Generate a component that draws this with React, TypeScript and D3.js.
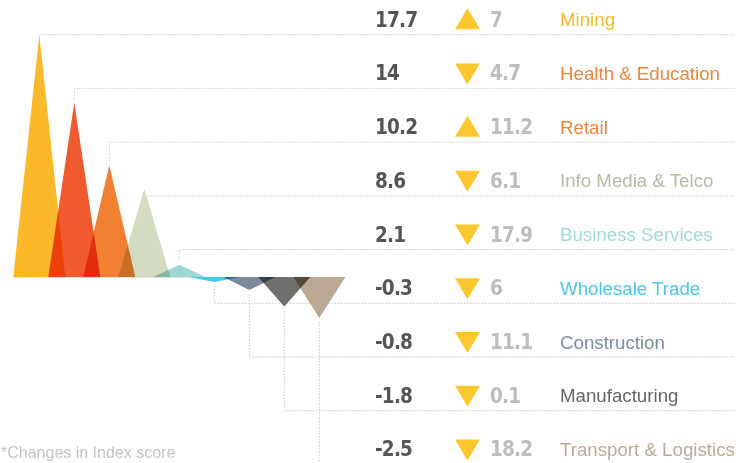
import React from "react";
import * as d3 from "d3";

const categories = [
  "Mining",
  "Health & Education",
  "Retail",
  "Info Media & Telco",
  "Business Services",
  "Wholesale Trade",
  "Construction",
  "Manufacturing",
  "Transport & Logistics",
];
const scores = [17.7, 14, 10.2, 8.6, 2.1, -0.3, -0.8, -1.8, -2.5];
const changes = ["7", "4.7", "11.2", "6.1", "17.9", "6", "11.1", "0.1", "18.2"];
const directions = ["up", "down", "up", "down", "down", "down", "down", "down", "down"];
const triangleColors = [
  "#FBB829", "#EF5A2E", "#F28033", "#D3DBC1", "#9ED7D4",
  "#4AC8F0", "#7A8B9E", "#6F6F6D", "#BBA993",
];
const labelColors = [
  "#F9BA2E", "#F0843C", "#F0843C", "#B8BAA5", "#A3DAD7",
  "#4CC6EF", "#7D8FA3", "#666666", "#BCAB94",
];
const footnote = "*Changes in Index score";

const W = 738;
const H = 463;
const BASE = 277;
const HALF = 26;
const RIGHT = 735;

const numStyle: React.CSSProperties = {
  fontFamily: "'DejaVu Sans', sans-serif",
  fontStretch: "condensed",
  fontWeight: 700,
  fontSize: "20.5px",
  letterSpacing: "-0.8px",
};

export default function App() {
  const x = d3.scalePoint<string>().domain(categories).range([39.3, 319.3]);
  const maxV = d3.max(scores) as number;
  const minV = d3.min(scores) as number;
  const yPos = d3.scalePow().exponent(1.4).domain([0, maxV]).range([BASE, 35]);
  const yNeg = d3.scaleLinear().domain([minV, 0]).range([318, BASE]);
  const peakY = (v: number) => (v >= 0 ? yPos(v) : yNeg(v));
  const rowY = d3.scaleLinear().domain([0, categories.length - 1]).range([34.7, 34.7 + 8 * 53.72]);

  const triPath = (cat: string, v: number) => {
    const cx = x(cat) as number;
    return d3.line()([
      [cx - HALF, BASE],
      [cx, peakY(v)],
      [cx + HALF, BASE],
    ]) + "Z";
  };

  const leader = (i: number) => {
    const cx = x(categories[i]) as number;
    const py = peakY(scores[i]);
    const ry = rowY(i);
    const gap = 4;
    let startY = ry;
    if (ry < py - gap) startY = py - gap;
    else if (ry > py + gap) startY = py + gap;
    return `M${cx},${startY}V${ry}H${RIGHT}`;
  };

  const icon = (i: number) => {
    const ry = rowY(i);
    const l = 455, r = 480, m = 467.5;
    if (directions[i] === "up") {
      return d3.line()([[l, ry - 5.5], [r, ry - 5.5], [m, ry - 26.5]]) + "Z";
    }
    return d3.line()([[l, ry - 25], [r, ry - 25], [m, ry - 4]]) + "Z";
  };

  return (
    <svg
      width={W}
      height={H}
      style={{ position: "absolute", left: 0, top: 0, background: "#fff" }}
    >
      <g>
        {categories.map((c, i) => (
          <path
            key={"l" + c}
            d={leader(i)}
            fill="none"
            stroke="#C8C8C8"
            strokeWidth={1}
            strokeDasharray="1.5 1.5"
          />
        ))}
      </g>
      <line x1={13} x2={341} y1={BASE + 0.5} y2={BASE + 0.5} stroke="#E2E2E2" strokeWidth={1} />
      <g style={{ isolation: "isolate" }}>
        {categories.map((c, i) => (
          <path
            key={"t" + c}
            d={triPath(c, scores[i])}
            fill={triangleColors[i]}
            style={{ mixBlendMode: "multiply" }}
          />
        ))}
      </g>
      <g>
        {categories.map((c, i) => {
          const ry = rowY(i);
          return (
            <g key={"r" + c}>
              <text x={375} y={ry - 8} style={numStyle} fill="#555555">
                {String(scores[i])}
              </text>
              <path d={icon(i)} fill="#FDC82F" />
              <text x={490} y={ry - 8} style={numStyle} fill="#BDBDBD">
                {changes[i]}
              </text>
              <text
                x={560}
                y={ry - 8.5}
                fontFamily="'Liberation Sans', Arial, sans-serif"
                fontSize={18.7}
                fill={labelColors[i]}
              >
                {c}
              </text>
            </g>
          );
        })}
      </g>
      <text
        x={1}
        y={458}
        fontFamily="'Liberation Sans', Arial, sans-serif"
        fontSize={16}
        fill="#C4C4C4"
      >
        {footnote}
      </text>
    </svg>
  );
}
